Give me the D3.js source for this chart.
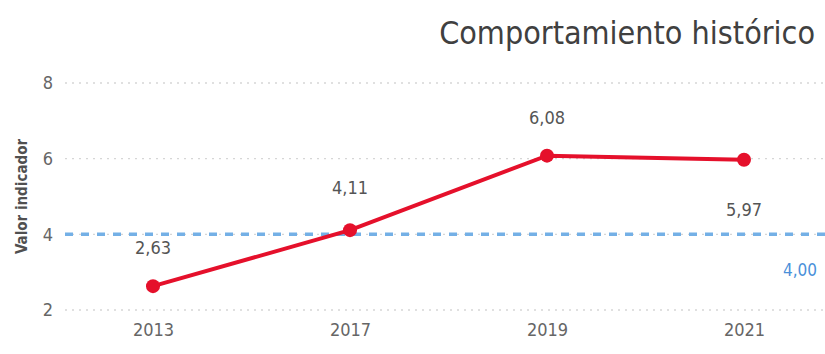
<!DOCTYPE html>
<html>
<head>
<meta charset="utf-8">
<script src="https://cdn.jsdelivr.net/npm/d3@7"></script>
<style>
  html, body { margin: 0; padding: 0; background: #fff; }
  svg { display: block; font-family: "DejaVu Sans Condensed", "Noto Sans", sans-serif; }
</style>
</head>
<body>
<svg id="chart" width="825" height="354"></svg>
<script>
// Indicator history by year
const years = ["2013", "2017", "2019", "2021"];
const values = [2.63, 4.11, 6.08, 5.97];
const yTicks = [2, 4, 6, 8];
const target = 4.00;
const title = "Comportamiento histórico";
const yTitle = "Valor indicador";

const fmt = v => d3.format(".2f")(v).replace(".", ",");

const svg = d3.select("#chart");
const W = 825, H = 354;
const margin = { left: 65, right: 0, top: 83, bottom: 44 };

const x = d3.scalePoint().domain(years).range([153, 744]);
const y = d3.scaleLinear().domain([2, 8]).range([H - margin.bottom, margin.top]);

// Title
svg.append("text")
  .attr("x", 815).attr("y", 44)
  .attr("text-anchor", "end")
  .attr("font-size", 32)
  .attr("fill", "#404040")
  .text(title);

// Gridlines
const grid = svg.append("g");
grid.selectAll("line").data(yTicks).join("line")
  .attr("x1", margin.left).attr("x2", W)
  .attr("y1", d => y(d)).attr("y2", d => y(d))
  .attr("stroke", "#d6d6d6").attr("stroke-width", 1.3)
  .attr("stroke-dasharray", "2,5");

// Y axis ticks
const yAxis = svg.append("g")
  .attr("transform", `translate(${margin.left - 9},0)`)
  .call(d3.axisLeft(y).tickValues(yTicks).tickSize(0).tickFormat(d3.format("d")));
yAxis.select(".domain").remove();
yAxis.selectAll("text")
  .attr("font-size", 18).attr("fill", "#666")
  .attr("font-family", "DejaVu Sans Condensed, sans-serif");

// Y axis title
svg.append("text")
  .attr("transform", `translate(22,${(y(2) + y(8)) / 2}) rotate(-90)`)
  .attr("text-anchor", "middle")
  .attr("dy", "0.35em")
  .attr("font-size", 15)
  .attr("font-weight", 600)
  .attr("fill", "#505050")
  .text(yTitle);

// X axis
const xAxis = svg.append("g")
  .attr("transform", `translate(0,${y(2) + 10})`)
  .call(d3.axisBottom(x).tickSize(0));
xAxis.select(".domain").remove();
xAxis.selectAll("text")
  .attr("font-size", 18).attr("fill", "#666")
  .attr("font-family", "DejaVu Sans Condensed, sans-serif");

// Target line
svg.append("line")
  .attr("x1", margin.left).attr("x2", W)
  .attr("y1", y(target)).attr("y2", y(target))
  .attr("stroke", "#74b0e6").attr("stroke-width", 3.5)
  .attr("stroke-dasharray", "8,8");
svg.append("text")
  .attr("x", 817).attr("y", y(target) + 42)
  .attr("text-anchor", "end")
  .attr("font-size", 17)
  .attr("fill", "#4a90d9")
  .text(fmt(target));

// Series line
const data = years.map((yr, i) => ({ yr, v: values[i] }));
svg.append("path")
  .datum(data)
  .attr("fill", "none")
  .attr("stroke", "#e5102b")
  .attr("stroke-width", 4)
  .attr("d", d3.line().x(d => x(d.yr)).y(d => y(d.v)));

svg.append("g").selectAll("circle").data(data).join("circle")
  .attr("cx", d => x(d.yr)).attr("cy", d => y(d.v))
  .attr("r", 7).attr("fill", "#e5102b");

// Data labels
const labelDy = [-32, -36, -32, 56];
svg.append("g").selectAll("text").data(data).join("text")
  .attr("x", d => x(d.yr))
  .attr("y", (d, i) => y(d.v) + labelDy[i])
  .attr("text-anchor", "middle")
  .attr("font-size", 18)
  .attr("fill", "#555")
  .text(d => fmt(d.v));
</script>
</body>
</html>
